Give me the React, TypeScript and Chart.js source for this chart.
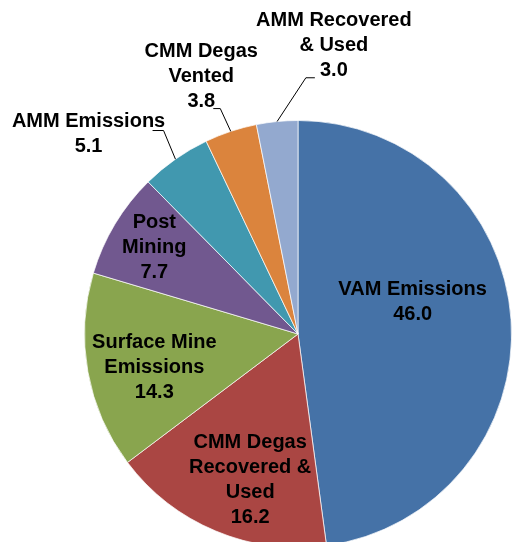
import React, { useEffect, useRef } from "react";
import { Chart, registerables } from "chart.js";

Chart.register(...registerables);

// ---- data ----
const categories = [
  "VAM Emissions",
  "CMM Degas Recovered & Used",
  "Surface Mine Emissions",
  "Post Mining",
  "AMM Emissions",
  "CMM Degas Vented",
  "AMM Recovered & Used",
];
const values = [46.0, 16.2, 14.3, 7.7, 5.1, 3.8, 3.0];
const labelLines = [
  ["VAM Emissions"],
  ["CMM Degas", "Recovered &", "Used"],
  ["Surface Mine", "Emissions"],
  ["Post", "Mining"],
  ["AMM Emissions"],
  ["CMM Degas", "Vented"],
  ["AMM Recovered", "& Used"],
];
const colors = ["#4572A7", "#AA4643", "#89A54E", "#71588F", "#4198AF", "#DB843D", "#93A9CF"];

// ---- label layout (fractions of radius from the pie centre; leader offsets in px) ----
const labelPos: [number, number][] = [
  [0.537, -0.152],
  [-0.224, 0.682],
  [-0.673, 0.159],
  [-0.673, -0.404],
  [-0.981, -0.939],
  [-0.453, -1.208],
  [0.168, -1.35],
];
// leader: [elbowDx, elbowDy, endDx, endDy] relative to label centre, or null
const leaders: (number[] | null)[] = [
  null,
  null,
  null,
  null,
  [75, -3, 64, -3],
  [19, 32.5, 12, 32.5],
  [-28, 32, -19, 32],
];

const FONT = "bold 20px 'Liberation Sans', Arial, sans-serif";
const LINE_H = 25;

const labelPlugin = {
  id: "pieLabels",
  afterDatasetsDraw(chart: any) {
    const ctx = chart.ctx;
    const meta = chart.getDatasetMeta(0);
    ctx.save();
    ctx.font = FONT;
    ctx.fillStyle = "#000";
    ctx.textAlign = "center";
    ctx.textBaseline = "middle";
    meta.data.forEach((arc: any, i: number) => {
      const { x, y, outerRadius, startAngle, endAngle } = arc.getProps(
        ["x", "y", "outerRadius", "startAngle", "endAngle"],
        true
      );
      const lx = x + labelPos[i][0] * outerRadius;
      const ly = y + labelPos[i][1] * outerRadius;
      const lines = [...labelLines[i], values[i].toFixed(1)];
      const top = ly - ((lines.length - 1) * LINE_H) / 2;
      lines.forEach((t, k) => ctx.fillText(t, lx, top + k * LINE_H));
      const ld = leaders[i];
      if (ld) {
        const mid = (startAngle + endAngle) / 2;
        const sx = x + Math.cos(mid) * outerRadius;
        const sy = y + Math.sin(mid) * outerRadius;
        ctx.beginPath();
        ctx.strokeStyle = "#000";
        ctx.lineWidth = 1;
        ctx.moveTo(sx, sy);
        ctx.lineTo(lx + ld[0], ly + ld[1]);
        ctx.lineTo(lx + ld[2], ly + ld[3]);
        ctx.stroke();
      }
    });
    ctx.restore();
  },
};

export default function App() {
  const ref = useRef<HTMLCanvasElement>(null);
  useEffect(() => {
    if (!ref.current) return;
    const chart = new Chart(ref.current, {
      type: "pie",
      data: {
        labels: categories,
        datasets: [
          {
            data: values,
            backgroundColor: colors,
            borderColor: "rgba(255,255,255,0.7)",
            borderWidth: 1,
          },
        ],
      },
      options: {
        responsive: false,
        animation: false,
        layout: { padding: { left: 84, top: 120, right: 0, bottom: 0 } },
        plugins: { legend: { display: false }, tooltip: { enabled: false } },
      },
      plugins: [labelPlugin],
    });
    return () => chart.destroy();
  }, []);
  return (
    <div
      style={{
        position: "fixed",
        left: 0,
        top: 0,
        width: 512,
        height: 542,
        overflow: "hidden",
        background: "#fff",
      }}
    >
      <canvas ref={ref} width={512} height={548} style={{ display: "block" }} />
    </div>
  );
}
